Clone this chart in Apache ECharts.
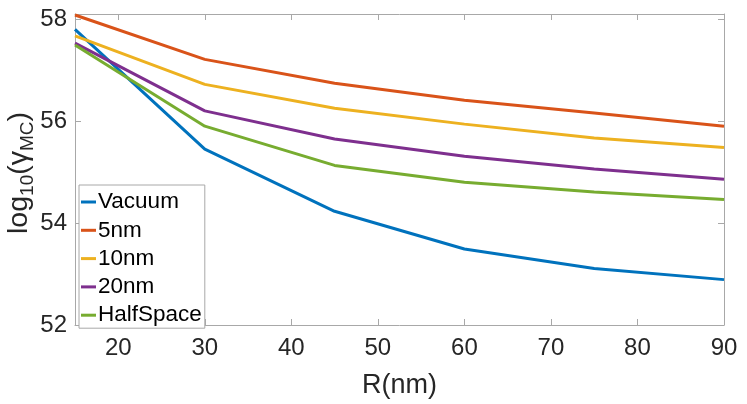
<!DOCTYPE html>
<html>
<head>
<meta charset="utf-8">
<script src="https://cdn.jsdelivr.net/npm/echarts@6/dist/echarts.min.js"></script>
<style>
  html, body { margin: 0; padding: 0; background: #fff; }
  #main { width: 747px; height: 404px; }
</style>
</head>
<body>
<div id="main"></div>
<script>
// radius values (nm) and log10(gamma_MC)
const radius = [15, 30, 45, 60, 75, 90];
const vacuum = [57.8, 55.45, 54.23, 53.49, 53.11, 52.89];
const nm5 = [58.08, 57.21, 56.74, 56.41, 56.16, 55.9];
const nm10 = [57.67, 56.72, 56.25, 55.94, 55.67, 55.48];
const nm20 = [57.53, 56.2, 55.65, 55.31, 55.06, 54.86];
const halfSpace = [57.49, 55.9, 55.13, 54.8, 54.61, 54.46];

const xTicks = [20, 30, 40, 50, 60, 70, 80, 90];
const yTicks = [52, 54, 56, 58];

const names = ['Vacuum', '5nm', '10nm', '20nm', 'HalfSpace'];
const colors = ['#0072BD', '#D95319', '#EDB120', '#7E2F8E', '#77AC30'];
const seriesValues = [vacuum, nm5, nm10, nm20, halfSpace];

const font = '"Liberation Sans", Arial, Helvetica, sans-serif';
const textColor = '#262626';
const axisColor = '#a8a8a8';

const chart = echarts.init(document.getElementById('main'), null, { renderer: 'canvas' });

// axes: bottom/left carry labels, top/right just close the box
function xAxisDef(pos, labels) {
  return {
    type: 'value', position: pos, min: 15, max: 90,
    axisLine: { show: true, onZero: false, lineStyle: { color: axisColor, width: 1 } },
    axisTick: { show: true, inside: true, length: 6, customValues: xTicks, lineStyle: { color: axisColor } },
    axisLabel: labels ? {
      show: true, customValues: xTicks, margin: 11,
      fontFamily: font, fontSize: 24, color: textColor
    } : { show: false },
    splitLine: { show: false }
  };
}
function yAxisDef(pos, labels) {
  return {
    type: 'value', position: pos, min: 52, max: 58.1,
    axisLine: { show: true, onZero: false, lineStyle: { color: axisColor, width: 1 } },
    axisTick: { show: true, inside: true, length: 6, customValues: yTicks, lineStyle: { color: axisColor } },
    axisLabel: labels ? {
      show: true, customValues: yTicks, margin: 8,
      fontFamily: font, fontSize: 24, color: textColor
    } : { show: false },
    splitLine: { show: false }
  };
}

const xBottom = xAxisDef('bottom', true);
xBottom.name = 'R(nm)';
xBottom.nameLocation = 'middle';
xBottom.nameGap = 47;
xBottom.nameTextStyle = { fontFamily: font, fontSize: 27, color: textColor };

const option = {
  backgroundColor: '#fff',
  animation: false,
  grid: { left: 75, right: 23, top: 14, bottom: 71, containLabel: false },
  xAxis: [xBottom, xAxisDef('top', false)],
  yAxis: [yAxisDef('left', true), yAxisDef('right', false)],
  legend: {
    orient: 'vertical',
    left: 79, top: 185,
    data: names,
    icon: 'rect',
    itemWidth: 15, itemHeight: 3,
    itemGap: 4.3,
    padding: [5, 3, 1, 2],
    backgroundColor: '#fff',
    borderColor: axisColor, borderWidth: 1,
    textStyle: { fontFamily: font, fontSize: 22.5, lineHeight: 24, color: '#000', padding: [0, 0, 0, -3] }
  },
  graphic: [{
    type: 'text',
    x: 19, y: 173,
    rotation: Math.PI / 2,
    style: {
      text: '{m|log}{s|10}{m|(γ}{s|MC}{m|)}',
      align: 'center', verticalAlign: 'middle',
      fill: textColor,
      rich: {
        m: { fontFamily: font, fontSize: 28.5, lineHeight: 37, fill: textColor },
        s: { fontFamily: font, fontSize: 19, lineHeight: 19, verticalAlign: 'bottom', fill: textColor }
      }
    }
  }],
  series: names.map((n, i) => ({
    name: n,
    type: 'line',
    data: radius.map((r, j) => [r, seriesValues[i][j]]),
    showSymbol: false,
    symbol: 'none',
    lineStyle: { color: colors[i], width: 3 },
    itemStyle: { color: colors[i] },
    clip: false
  }))
};

chart.setOption(option);
</script>
</body>
</html>
